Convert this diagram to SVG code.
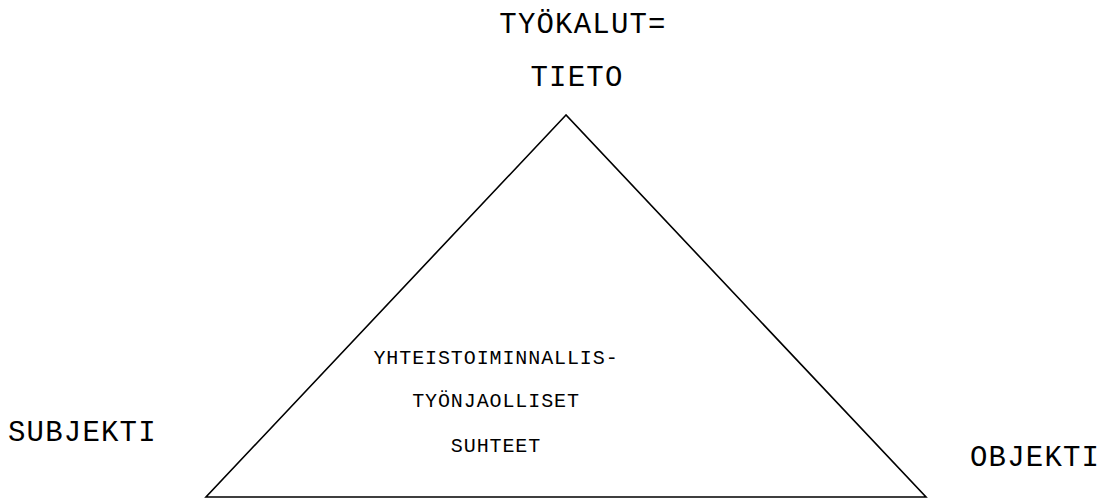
<svg xmlns="http://www.w3.org/2000/svg" width="1104" height="499" viewBox="0 0 1104 499">
<style>
.big{font-family:"Courier New","Nimbus Mono PS","FreeMono","Liberation Mono",monospace;font-size:29px;letter-spacing:1.2px;fill:#000}
.small{font-family:"Courier New","Nimbus Mono PS","FreeMono","Liberation Mono",monospace;font-size:20px;letter-spacing:0.9px;fill:#000}
.edge{fill:none;stroke:#000;stroke-width:1.6}
</style>
<rect width="1104" height="499" fill="#fff"/>
<g id="connectors">
<path class="edge" d="M566,115 L206,497 L926,497 Z"/>
</g>
<g id="tools"><text class="big" x="583" y="33" text-anchor="middle">TYÖKALUT=</text><text class="big" x="577" y="86" text-anchor="middle">TIETO</text></g>
<g id="subject"><text class="big" x="8" y="441">SUBJEKTI</text></g>
<g id="object"><text class="big" x="970" y="466">OBJEKTI</text></g>
<g id="community"><text class="small" x="496" y="364" text-anchor="middle">YHTEISTOIMINNALLIS-</text><text class="small" x="496" y="407" text-anchor="middle">TYÖNJAOLLISET</text><text class="small" x="496" y="452" text-anchor="middle">SUHTEET</text></g>
</svg>
